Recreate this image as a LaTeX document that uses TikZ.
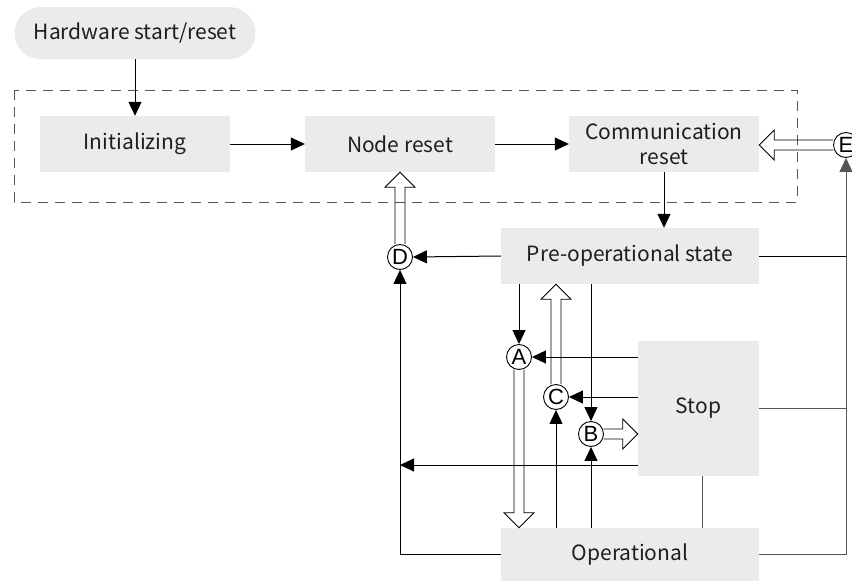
\documentclass[tikz,border=0pt]{standalone}
\usepackage{fontspec}
\setmainfont{Noto Sans CJK SC}
\newfontfamily\circfont{Liberation Sans}
\usetikzlibrary{arrows.meta,calc}

\definecolor{boxgray}{HTML}{EBEBEB}
\definecolor{txtgray}{HTML}{1E1E1E}
\definecolor{linegray}{HTML}{555555}

% open block arrow from #1 to #2
\newcommand{\fatarrow}[2]{%
  \draw[line width=0.8pt] let \p1=(#1), \p2=(#2),
    \n1={veclen(\x2-\x1,\y2-\y1)}, \n2={atan2(\y2-\y1,\x2-\x1)} in
    {[shift={(\p1)}, rotate=\n2]
    (0pt,5pt) -- (\n1-15pt,5pt) -- (\n1-15pt,15pt) -- (\n1,0pt)
    -- (\n1-15pt,-15pt) -- (\n1-15pt,-5pt) -- (0pt,-5pt)};}

\begin{document}
\begin{tikzpicture}[x=1pt,y=-1pt,
    box/.style={fill=boxgray, text=txtgray, inner sep=0pt, align=center,
      minimum width=190pt, minimum height=56pt,
      font=\fontsize{21}{25}\selectfont},
    letter/.style={circle, draw, fill=white, line width=0.9pt,
      minimum size=25pt, inner sep=0pt, font=\fontsize{22}{22}\circfont},
    link/.style={line width=1pt},
    arr/.style={link, -{Triangle[length=14pt,width=13pt]}}]
  \useasboundingbox (0,0) rectangle (852,581);
  \clip (0,0) rectangle (852,581);

  % boot part
  \draw[linegray, line width=1pt, dash pattern=on 10pt off 7pt] (14,90) rectangle (797,202);
  \node[box, rounded corners=26pt, minimum width=241pt, minimum height=52pt] (hw) at (135,33) {Hardware start/reset};
  \node[box] (init) at (135,144) {Initializing};
  \node[box] (nreset) at (400,144) {Node reset};
  \node[box] (creset) at (664,144) {Communication\\reset};

  % states
  \node[box, minimum width=258pt] (preop) at (630,256) {Pre-operational state};
  \node[box, minimum width=121pt, minimum height=135pt] (stop) at (698.5,408.5) {Stop};
  \node[box, minimum width=258pt, minimum height=53pt] (oper) at (630,554.5) {Operational};

  % transitions
  \node[letter] (A) at (519,357) {A};
  \node[letter] (B) at (591,434) {B};
  \node[letter] (C) at (556,397) {C};
  \node[letter] (D) at (400,257) {D};
  \node[letter] (E) at (846,145) {E};

  \coordinate (s1) at (638,465);
  \coordinate (s2) at (702,476);

  \draw[arr] (hw.south) -- (init.north);
  \draw[arr] (init.east) -- (nreset.west);
  \draw[arr] (nreset.east) -- (creset.west);
  \draw[arr] (creset.south) -- (creset.south |- preop.north);

  \draw[arr] (preop.west) -- (D.east);
  \draw[arr] (oper.west) -| (D.south);
  \draw[arr] (s1) -- (s1 -| D);

  \draw[arr] (A |- preop.south) -- (A.north);
  \draw[arr] (A -| stop.west) -- (A.east);
  \draw[arr] (C -| stop.west) -- (C.east);
  \draw[arr] (B |- preop.south) -- (B.north);
  \draw[arr] (C |- oper.north) -- (C.south);
  \draw[arr] (B |- oper.north) -- (B.south);
  \draw[link, linegray] (s2) -- (s2 |- oper.north);

  \draw[link] (preop.east) -- (preop.east -| E);
  \draw[link, linegray] (stop.east) -- (stop.east -| E);
  \draw[arr, linegray] (oper.east) -| (E.south);

  \fatarrow{E.west}{E.west -| creset.east}
  \fatarrow{D.north}{D.north |- nreset.south}
  \fatarrow{A.south}{A.south |- oper.north}
  \fatarrow{C.north}{C.north |- preop.south}
  \fatarrow{B.east}{B.east -| stop.west}
\end{tikzpicture}
\end{document}
